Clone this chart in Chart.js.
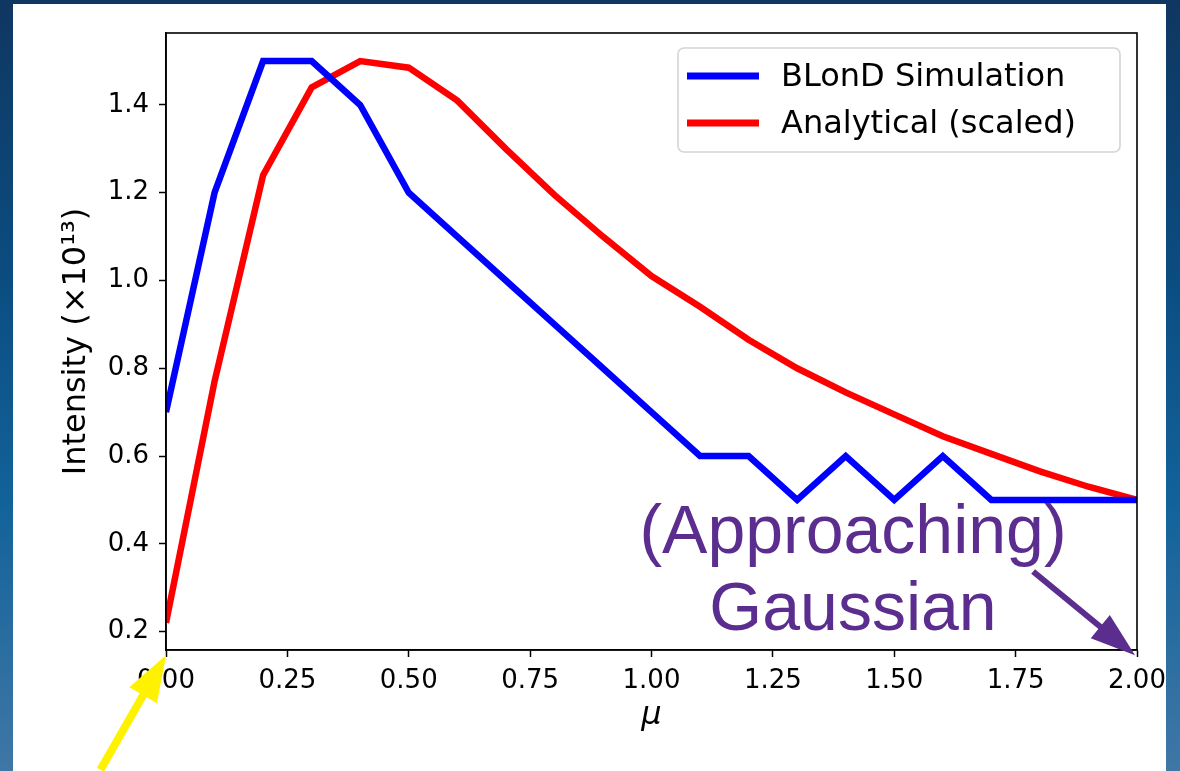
<!DOCTYPE html>
<html>
<head>
<meta charset="utf-8">
<script src="https://cdn.jsdelivr.net/npm/chart.js@4/dist/chart.umd.min.js"></script>
<style>
  html, body { margin: 0; padding: 0; }
  body {
    width: 1180px; height: 771px; overflow: hidden; position: relative;
    background: linear-gradient(180deg, #0f3761 0%, #0b4c80 35%, #12629a 65%, #3f77a6 100%);
  }
  #panel { position: absolute; left: 13px; top: 4px; width: 1153px; height: 767px; background: #fff; }
  #chart { position: absolute; left: 0; top: 0; }
</style>
</head>
<body>
<div id="panel"></div>
<canvas id="chart" width="1180" height="771"></canvas>
<script>
/* ===== DATA ===== */

const mu = [0, 0.1, 0.2, 0.3, 0.4, 0.5, 0.6, 0.7, 0.8, 0.9, 1.0,
            1.1, 1.2, 1.3, 1.4, 1.5, 1.6, 1.7, 1.8, 1.9, 2.0];
const blondSim = [0.70, 1.20, 1.50, 1.50, 1.40, 1.20, 1.10, 1.00, 0.90, 0.80, 0.70,
                  0.60, 0.60, 0.50, 0.60, 0.50, 0.60, 0.50, 0.50, 0.50, 0.50];
const analytical = [0.22, 0.77, 1.24, 1.44, 1.50, 1.485, 1.41, 1.30, 1.195, 1.10, 1.01,
                    0.94, 0.865, 0.80, 0.745, 0.695, 0.645, 0.605, 0.565, 0.53, 0.50];
const seriesNames = ["BLonD Simulation", "Analytical (scaled)"];
const xTicks = [0, 0.25, 0.5, 0.75, 1.0, 1.25, 1.5, 1.75, 2.0];
const yTicks = [0.2, 0.4, 0.6, 0.8, 1.0, 1.2, 1.4];
const noteLines = ["(Approaching)", "Gaussian"];

/* ===== HELPERS ===== */

const FONT = "'DejaVu Sans', sans-serif";

function toPoints(ys) {
  return mu.map((x, i) => ({ x, y: ys[i] }));
}

function drawArrow(ctx, x1, y1, x2, y2, color, shaft, headLen, headHalf) {
  const a = Math.atan2(y2 - y1, x2 - x1);
  const bx = x2 - Math.cos(a) * headLen;
  const by = y2 - Math.sin(a) * headLen;
  ctx.save();
  ctx.strokeStyle = color;
  ctx.fillStyle = color;
  ctx.lineWidth = shaft;
  ctx.beginPath();
  ctx.moveTo(x1, y1);
  ctx.lineTo(bx + Math.cos(a) * 2, by + Math.sin(a) * 2);
  ctx.stroke();
  ctx.beginPath();
  ctx.moveTo(x2, y2);
  ctx.lineTo(bx - Math.sin(a) * headHalf, by + Math.cos(a) * headHalf);
  ctx.lineTo(bx + Math.sin(a) * headHalf, by - Math.cos(a) * headHalf);
  ctx.closePath();
  ctx.fill();
  ctx.restore();
}

/* ===== PLUGINS ===== */

const framePlugin = {
  id: "frame",
  afterDatasetsDraw(chart) {
    const { ctx, chartArea: a } = chart;
    ctx.save();
    ctx.strokeStyle = "#000";
    ctx.lineWidth = 1.6;
    ctx.strokeRect(a.left, a.top, a.right - a.left, a.bottom - a.top);
    ctx.restore();
  }
};

const legendPlugin = {
  id: "innerLegend",
  afterDatasetsDraw(chart) {
    const { ctx, chartArea: a } = chart;
    const w = 442, h = 104;
    const x = a.right - 17 - w, y = a.top + 15;
    ctx.save();
    ctx.fillStyle = "rgba(255,255,255,0.85)";
    ctx.strokeStyle = "#d4d4d4";
    ctx.lineWidth = 1.6;
    ctx.beginPath();
    ctx.roundRect(x, y, w, h, 6);
    ctx.fill();
    ctx.stroke();
    ctx.font = "32px " + FONT;
    ctx.textBaseline = "middle";
    chart.data.datasets.forEach((ds, i) => {
      const ly = y + 28 + i * 47;
      ctx.strokeStyle = ds.borderColor;
      ctx.lineWidth = 7;
      ctx.beginPath();
      ctx.moveTo(x + 9, ly);
      ctx.lineTo(x + 81, ly);
      ctx.stroke();
      ctx.fillStyle = "#000";
      ctx.fillText(ds.label, x + 103, ly + 2);
    });
    ctx.restore();
  }
};

const notePlugin = {
  id: "notes",
  afterDraw(chart) {
    const { ctx } = chart;
    const xs = chart.scales.x, ys = chart.scales.y;
    const px = v => xs.getPixelForValue(v);
    const py = v => ys.getPixelForValue(v);

    // purple note + arrow toward the right end
    ctx.save();
    ctx.fillStyle = "#5b2d8e";
    ctx.font = "68px 'Liberation Sans', Arial, sans-serif";
    ctx.textAlign = "center";
    ctx.textBaseline = "alphabetic";
    ctx.fillText(noteLines[0], px(1.415), py(0.378));
    ctx.fillText(noteLines[1], px(1.415), py(0.203));
    ctx.restore();
    drawArrow(ctx, px(1.786), py(0.337), px(1.996), py(0.146), "#5b2d8e", 6, 45, 15);

    // yellow arrow toward the origin
    drawArrow(ctx, px(-0.135), py(-0.115), px(0), py(0.146), "#fff200", 8, 46, 16);
  }
};

/* ===== CHART ===== */

new Chart(document.getElementById("chart"), {
  type: "line",
  data: {
    datasets: [
      { label: seriesNames[0], data: toPoints(blondSim), borderColor: "#0000ff",
        borderWidth: 6.5, pointRadius: 0, tension: 0, fill: false },
      { label: seriesNames[1], data: toPoints(analytical), borderColor: "#ff0000",
        borderWidth: 6.5, pointRadius: 0, tension: 0, fill: false }
    ]
  },
  options: {
    responsive: false,
    animation: false,
    devicePixelRatio: 1,
    layout: { padding: { top: 33, right: 43, bottom: 0, left: 0 } },
    plugins: { legend: { display: false }, tooltip: { enabled: false } },
    scales: {
      x: {
        type: "linear",
        min: 0,
        max: 2,
        afterBuildTicks: s => { s.ticks = xTicks.map(v => ({ value: v })); },
        afterFit: s => { s.height = 121; },
        grid: { drawOnChartArea: false, tickLength: 7, color: "#000", tickWidth: 1.5 },
        border: { display: true, color: "#000", width: 1.6 },
        ticks: { color: "#000", font: { family: FONT, size: 26 }, padding: 9,
                 maxRotation: 0, callback: v => Number(v).toFixed(2) },
        title: { display: true, text: "μ", color: "#000",
                 font: { family: FONT, size: 32, style: "italic" },
                 padding: { top: 0, bottom: 36 } }
      },
      y: {
        type: "linear",
        min: 0.158,
        max: 1.564,
        afterBuildTicks: s => { s.ticks = yTicks.map(v => ({ value: v })); },
        afterFit: s => { s.width = 166; },
        grid: { drawOnChartArea: false, tickLength: 7, color: "#000", tickWidth: 1.5 },
        border: { display: true, color: "#000", width: 1.6 },
        ticks: { color: "#000", font: { family: FONT, size: 26 }, padding: 10,
                 callback: v => Number(v).toFixed(1) },
        title: { display: true, text: "Intensity (×10¹³)", color: "#000",
                 font: { family: FONT, size: 32 },
                 padding: { top: 57, bottom: 0 } }
      }
    }
  },
  plugins: [framePlugin, legendPlugin, notePlugin]
});
</script>
</body>
</html>
